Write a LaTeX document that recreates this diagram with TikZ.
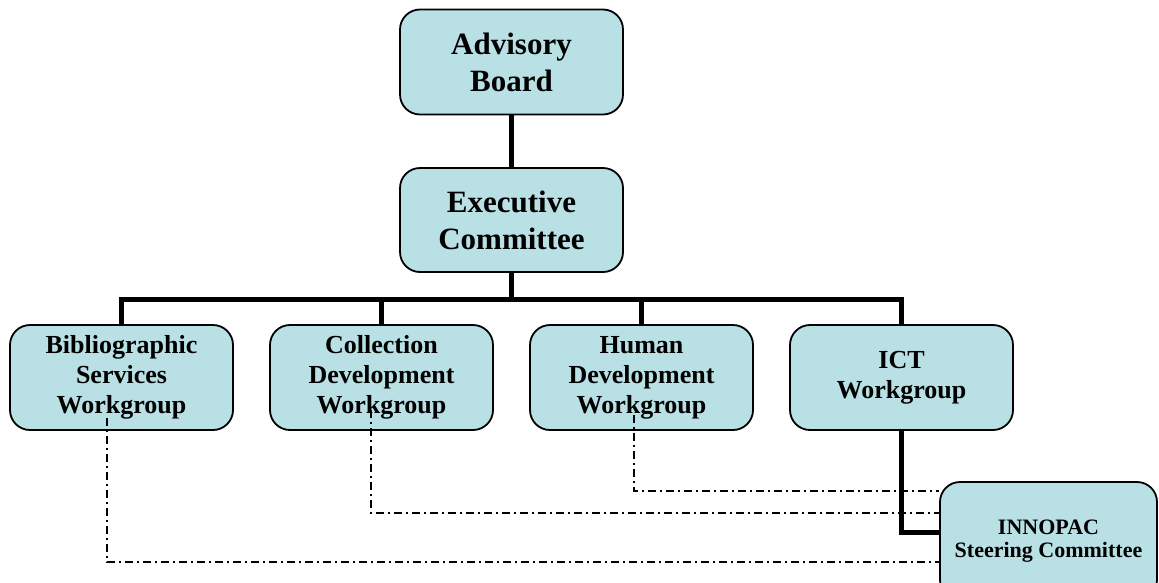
\documentclass[tikz,border=0pt]{standalone}
\usepackage{fontspec}
\setmainfont{Liberation Serif}
\definecolor{boxfill}{RGB}{185,224,228}
\tikzset{
  orgbox/.style={draw=black, line width=1.8pt, fill=boxfill, rounded corners=20pt,
    align=center, inner sep=0pt, font=\bfseries},
  bigbox/.style={orgbox, minimum width=223pt, minimum height=105pt,
    font=\bfseries\fontsize{31}{37}\selectfont},
  rowbox/.style={orgbox, minimum width=223pt, minimum height=105pt,
    font=\bfseries\fontsize{26}{30}\selectfont},
  smallbox/.style={orgbox, minimum width=217pt, minimum height=118pt,
    font=\bfseries\fontsize{22}{23.5}\selectfont},
  conn/.style={line width=5pt, line join=miter},
  dd/.style={line width=1.6pt, dash pattern=on 8pt off 4pt on 2pt off 4pt}
}
\begin{document}
\begin{tikzpicture}[x=1pt,y=-1pt]
\useasboundingbox (0,0) rectangle (1159,582);
\clip (0,0) rectangle (1159,582);
% nodes
\node[bigbox] (adv) at (511.5,62) {Advisory\\Board};
\node[bigbox, minimum height=104pt] (exec) at (511.5,220) {Executive\\Committee};
\node[rowbox] (bib) at (121.5,377.5) {Bibliographic\\Services\\Workgroup};
\node[rowbox] (col) at (381.5,377.5) {Collection\\Development\\Workgroup};
\node[rowbox] (hum) at (641.5,377.5) {Human\\Development\\Workgroup};
\node[rowbox] (ict) at (901.5,377.5) {ICT\\Workgroup};
\coordinate (bar) at (511.5,299);
% solid connectors
\draw[conn] (adv.south) -- (exec.north);
\draw[conn] (exec.south) -- (bar);
\draw[conn] (bib.north) -- (bib.north |- bar) -- (ict.north |- bar) -- (ict.north);
\draw[conn] (col.north) -- (col.north |- bar);
\draw[conn] (hum.north) -- (hum.north |- bar);
% INNOPAC
\draw[conn] (ict.south) |- (940,532) coordinate (ij);
\node[smallbox] (inn) at (1048.5,541) {INNOPAC\\Steering Committee};
% dash-dot connectors
\coordinate (d1) at (107,418);
\coordinate (d2) at (371,410);
\coordinate (d3) at (634,415);
\draw[dd] (d1) |- ([yshift=-21pt]inn.west);
\draw[dd] (d2) |- ([yshift=28pt]inn.west);
\draw[dd] (d3) |- ([yshift=50pt]inn.west);
\end{tikzpicture}
\end{document}
